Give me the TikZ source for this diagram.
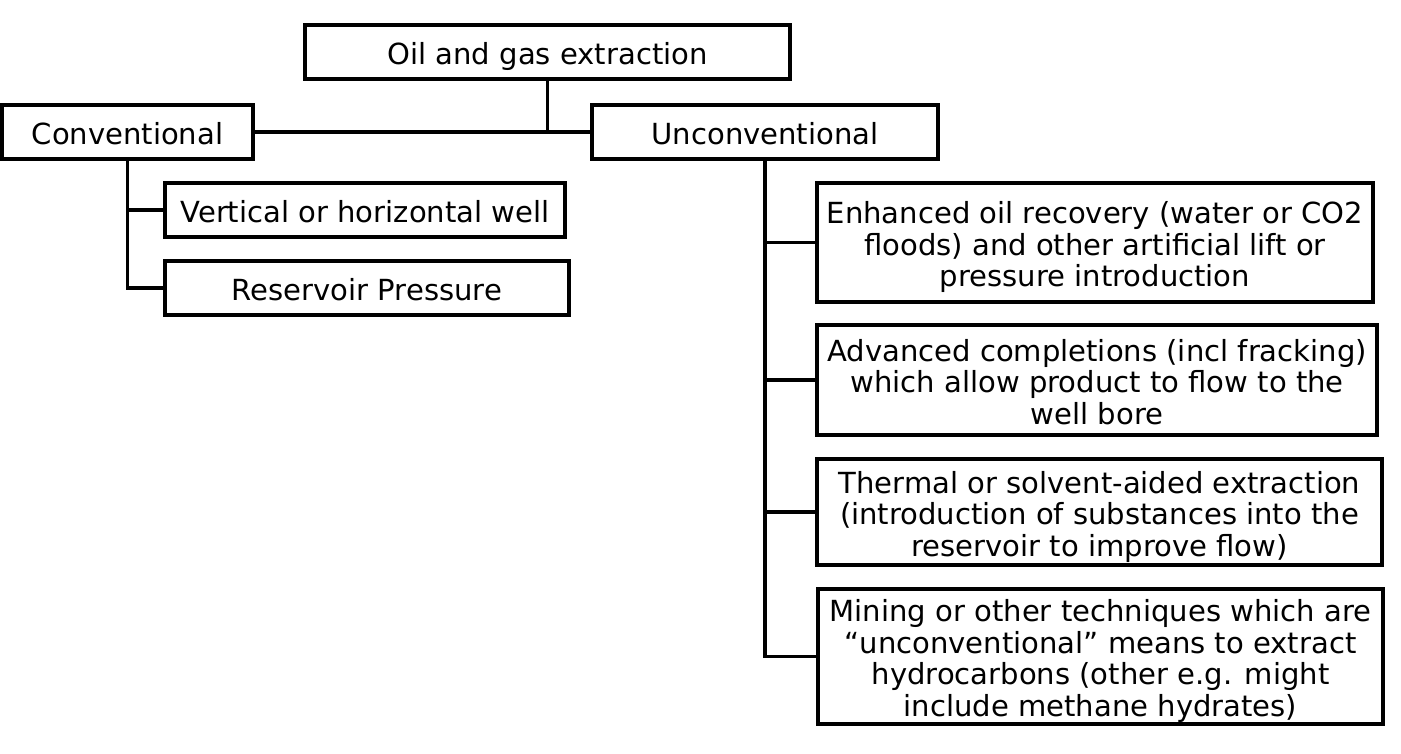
\documentclass[tikz,border=0pt]{standalone}
\usepackage{fontspec}
\setmainfont{DejaVu Sans}
\usetikzlibrary{positioning}

\newcommand{\topstrut}{\rule[-4.2pt]{0pt}{27.7pt}}
\newcommand{\botstrut}{\rule[-4.2pt]{0pt}{4.2pt}}

\begin{document}
\begin{tikzpicture}[x=0.75pt,y=-0.75pt,
    box/.style={draw,rectangle,line width=2.3pt,inner sep=0pt,align=center,minimum height=40.5pt,
        font=\fontsize{21.8}{23.7}\selectfont},
    link/.style={line width=2.3pt}]
    \useasboundingbox (0,0) rectangle (1401,753);

    \node[box,minimum width=363.75pt] (extract) at (547.5,52) {\topstrut Oil and gas extraction\botstrut};
    \node[box,minimum width=188.25pt] (conv) at (127.5,132) {\topstrut Conventional\botstrut};
    \node[box,minimum width=259.5pt] (unconv) at (765,132) {\topstrut Unconventional\botstrut};

    \node[box,minimum width=300pt] (vert) at (365,210) {\topstrut Vertical or horizontal well\botstrut};
    \node[box,minimum width=303pt] (res) at (367,288) {\topstrut Reservoir Pressure\botstrut};

    \node[box,minimum width=417pt,minimum height=89.25pt] (eor) at (1095,242.5)
        {\topstrut Enhanced oil recovery (water or CO2\\floods) and other artificial lift or\\pressure introduction\botstrut};
    \node[box,minimum width=420pt,minimum height=82.5pt] (adv) at (1097,380)
        {\topstrut Advanced completions (incl fracking)\\which allow product to flow to the\\well bore\botstrut};
    \node[box,minimum width=423.75pt,minimum height=79.5pt] (therm) at (1099.5,512)
        {\topstrut Thermal or solvent-aided extraction\\(introduction of substances into the\\reservoir to improve flow)\botstrut};
    \node[box,minimum width=423.75pt,minimum height=101.25pt] (mine) at (1100.5,656.5)
        {\topstrut Mining or other techniques which are\\“unconventional” means to extract\\hydrocarbons (other e.g. might\\include methane hydrates)\botstrut};

    \draw[link] (conv.east) -- (unconv.west);
    \draw[link] (extract.south) -- (extract.south |- conv.east);

    \draw[link] (conv.south) |- (vert.west);
    \draw[link] (conv.south) |- (res.west);

    \foreach \n in {eor,adv,therm,mine}
        \draw[link] (unconv.south) |- (\n.west);
\end{tikzpicture}
\end{document}
